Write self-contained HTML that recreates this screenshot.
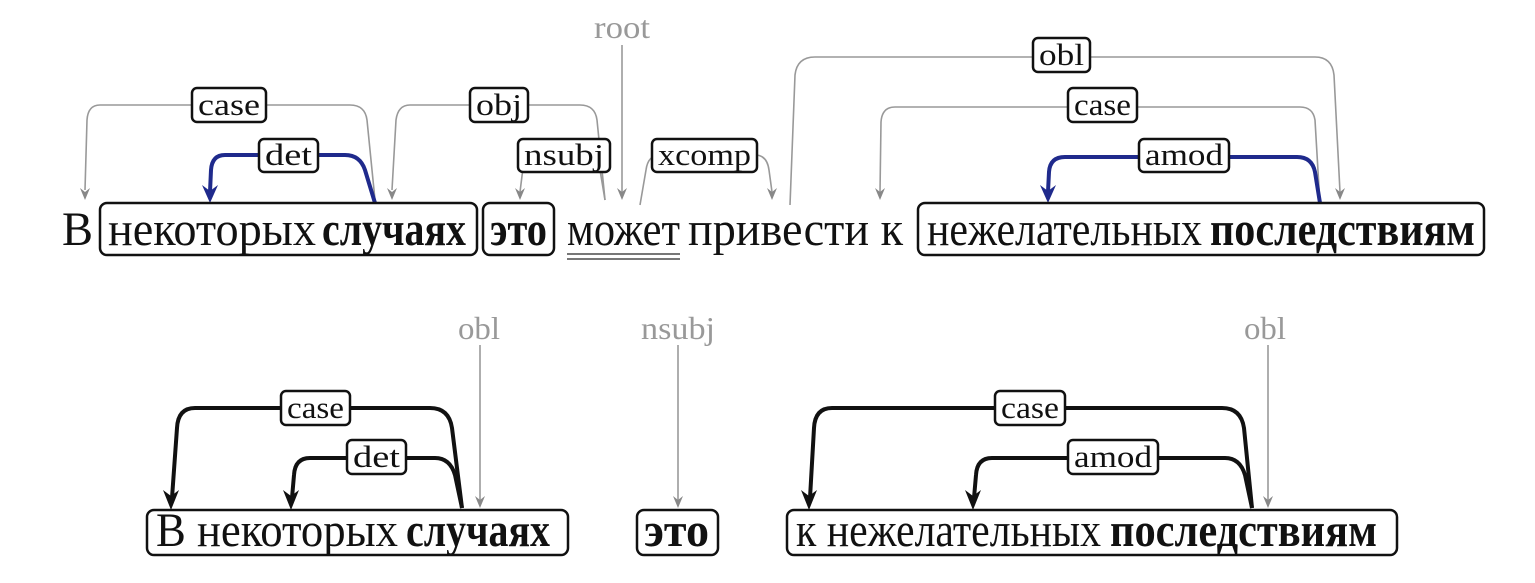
<!DOCTYPE html>
<html><head><meta charset="utf-8"><style>
html,body{margin:0;padding:0;background:#fff;width:1535px;height:583px;overflow:hidden}
svg text{font-family:"Liberation Serif","Times New Roman",serif}
</style></head><body>
<svg width="1535" height="583" viewBox="0 0 1535 583" xmlns="http://www.w3.org/2000/svg">
<g fill="none" stroke="#999" stroke-width="1.6">
<path d="M375,200 L367,120 Q365,105 350,105 L100,105 Q88,105 87,120 L85,190"/>
<path d="M605,200 L597,120 Q595,105 580,105 L410,105 Q398,105 396,120 L392,190"/>
<path d="M605,200 L600,170 Q598,155 585,155 L535,155 Q525,155 523,168 L520,192"/>
<path d="M622,45 L622,192"/>
<path d="M640,205 L646,170 Q648,155 660,155 L755,155 Q767,155 769,170 L772,192"/>
<path d="M790,205 L795,75 Q797,57 815,57 L1315,57 Q1332,57 1334,75 L1340,192"/>
<path d="M1320,205 L1315,120 Q1313,107 1300,107 L895,107 Q882,107 881,122 L880,192"/>
<path d="M480,345 L480,500"/>
<path d="M678,345 L678,500"/>
<path d="M1268,345 L1268,500"/>
</g>
<g fill="#888">
<path d="M80,188 L85,200 L90,188 L85,192Z"/>
<path d="M387,188 L392,200 L397,188 L392,192Z"/>
<path d="M515,188 L520,200 L525,188 L520,192Z"/>
<path d="M617,188 L622,200 L627,188 L622,192Z"/>
<path d="M767,188 L772,200 L777,188 L772,192Z"/>
<path d="M1335,188 L1340,200 L1345,188 L1340,192Z"/>
<path d="M875,188 L880,200 L885,188 L880,192Z"/>
<path d="M475,496 L480,508 L485,496 L480,500Z"/>
<path d="M673,496 L678,508 L683,496 L678,500Z"/>
<path d="M1263,496 L1268,508 L1273,496 L1268,500Z"/>
</g>
<g fill="none" stroke="#1f2a8c" stroke-width="4">
<path d="M375,203 L365,170 Q360,155 345,155 L225,155 Q212,155 211,170 L210,192"/>
<path d="M1320,203 L1315,172 Q1312,157 1297,157 L1065,157 Q1050,157 1049,172 L1048,192"/>
</g>
<g fill="#1f2a8c">
<path d="M202,185 L210,203 L218,185 L210,191Z"/>
<path d="M1040,185 L1048,203 L1056,185 L1048,191Z"/>
</g>
<g fill="none" stroke="#111" stroke-width="4">
<path d="M462,508 L452,428 Q449,408 430,408 L195,408 Q178,408 177,428 L172,498"/>
<path d="M462,508 L455,475 Q450,458 435,458 L310,458 Q295,458 294,475 L292,498"/>
<path d="M1252,508 L1244,428 Q1241,408 1222,408 L832,408 Q815,408 814,428 L810,498"/>
<path d="M1252,508 L1245,475 Q1240,458 1225,458 L992,458 Q977,458 976,475 L974,498"/>
</g>
<g fill="#111">
<path d="M163,490 L171,510 L179,490 L171,496Z"/>
<path d="M283,490 L291,510 L299,490 L291,496Z"/>
<path d="M801,490 L809,510 L817,490 L809,496Z"/>
<path d="M965,490 L973,510 L981,490 L973,496Z"/>
</g>
<g fill="#fff" stroke="#111" stroke-width="2.5">
<rect x="192" y="88" width="74" height="34" rx="5"/>
<rect x="259" y="139" width="59" height="33" rx="5"/>
<rect x="470" y="88" width="58" height="34" rx="5"/>
<rect x="518" y="139" width="92" height="33" rx="5"/>
<rect x="652" y="139" width="105" height="33" rx="5"/>
<rect x="1033" y="38" width="57" height="34" rx="5"/>
<rect x="1068" y="88" width="69" height="34" rx="5"/>
<rect x="1139" y="139" width="90" height="33" rx="5"/>
<rect x="281" y="391" width="69" height="34" rx="5"/>
<rect x="347" y="440" width="59" height="34" rx="5"/>
<rect x="995" y="391" width="70" height="34" rx="5"/>
<rect x="1068" y="440" width="90" height="34" rx="5"/>
<rect x="100" y="203" width="377" height="52" rx="7"/>
<rect x="483" y="203" width="71" height="52" rx="7"/>
<rect x="918" y="203" width="566" height="52" rx="7"/>
<rect x="147" y="510" width="421" height="45" rx="7"/>
<rect x="637" y="510" width="81" height="45" rx="7"/>
<rect x="787" y="510" width="610" height="45" rx="7"/>
</g>
<g font-size="31" fill="#111">
<text x="198" y="115" textLength="62" lengthAdjust="spacingAndGlyphs">case</text>
<text x="265" y="165" textLength="47" lengthAdjust="spacingAndGlyphs">det</text>
<text x="476" y="115" textLength="46" lengthAdjust="spacingAndGlyphs">obj</text>
<text x="524" y="165" textLength="80" lengthAdjust="spacingAndGlyphs">nsubj</text>
<text x="658" y="165" textLength="93" lengthAdjust="spacingAndGlyphs">xcomp</text>
<text x="1039" y="65" textLength="45" lengthAdjust="spacingAndGlyphs">obl</text>
<text x="1074" y="115" textLength="57" lengthAdjust="spacingAndGlyphs">case</text>
<text x="1145" y="165" textLength="78" lengthAdjust="spacingAndGlyphs">amod</text>
<text x="287" y="418" textLength="57" lengthAdjust="spacingAndGlyphs">case</text>
<text x="353" y="467" textLength="47" lengthAdjust="spacingAndGlyphs">det</text>
<text x="1001" y="418" textLength="58" lengthAdjust="spacingAndGlyphs">case</text>
<text x="1074" y="467" textLength="78" lengthAdjust="spacingAndGlyphs">amod</text>
</g>
<g font-size="32" fill="#999">
<text x="594" y="38" textLength="56" lengthAdjust="spacingAndGlyphs">root</text>
<text x="458" y="339" textLength="42" lengthAdjust="spacingAndGlyphs">obl</text>
<text x="641" y="339" textLength="74" lengthAdjust="spacingAndGlyphs">nsubj</text>
<text x="1244" y="339" textLength="42" lengthAdjust="spacingAndGlyphs">obl</text>
</g>
<g font-size="48" fill="#111">
<text x="62" y="245" textLength="31" lengthAdjust="spacingAndGlyphs">В</text>
<text x="108" y="245" textLength="208" lengthAdjust="spacingAndGlyphs">некоторых</text>
<text x="322" y="245" font-weight="bold" textLength="144" lengthAdjust="spacingAndGlyphs">случаях</text>
<text x="490" y="245" font-weight="bold" textLength="57" lengthAdjust="spacingAndGlyphs">это</text>
<text x="567" y="245" textLength="113" lengthAdjust="spacingAndGlyphs">может</text>
<text x="688" y="245" textLength="215" lengthAdjust="spacingAndGlyphs">привести к</text>
<text x="927" y="245" textLength="275" lengthAdjust="spacingAndGlyphs">нежелательных</text>
<text x="1210" y="245" font-weight="bold" textLength="265" lengthAdjust="spacingAndGlyphs">последствиям</text>
<text x="156" y="546" textLength="242" lengthAdjust="spacingAndGlyphs">В некоторых</text>
<text x="406" y="546" font-weight="bold" textLength="144" lengthAdjust="spacingAndGlyphs">случаях</text>
<text x="644" y="546" font-weight="bold" textLength="65" lengthAdjust="spacingAndGlyphs">это</text>
<text x="796" y="546" textLength="305" lengthAdjust="spacingAndGlyphs">к нежелательных</text>
<text x="1110" y="546" font-weight="bold" textLength="267" lengthAdjust="spacingAndGlyphs">последствиям</text>
</g>
<g stroke="#777" stroke-width="2">
<line x1="567" y1="254" x2="680" y2="254"/>
<line x1="567" y1="259" x2="680" y2="259"/>
</g>
</svg>
</body></html>
